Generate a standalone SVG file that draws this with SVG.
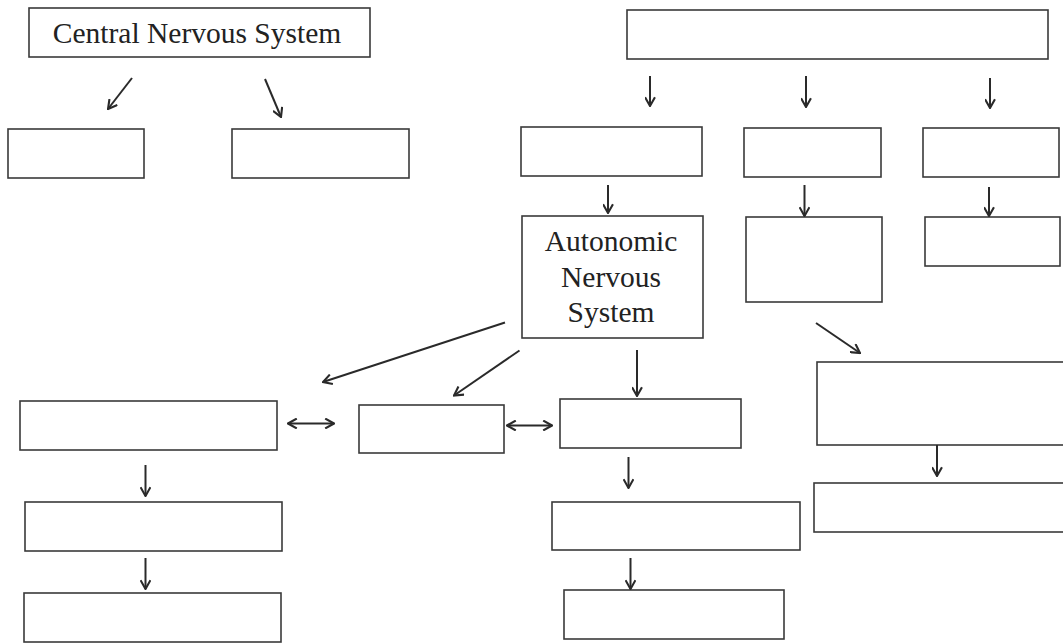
<svg xmlns="http://www.w3.org/2000/svg" width="1063" height="644" viewBox="0 0 1063 644">
<style>
.box{fill:#fff;stroke:#3a3a3a;stroke-width:1.6}
.c{fill:none;stroke:#2a2a2a;stroke-width:2}
.t{font-family:"Liberation Serif","Times New Roman",serif;font-size:29.5px;fill:#222;text-anchor:middle}
</style>
<defs>
<marker id="a" viewBox="0 0 10 10" refX="9" refY="5" markerWidth="11" markerHeight="11" markerUnits="userSpaceOnUse" orient="auto-start-reverse">
<polyline points="1,0.5 9,5 1,9.5" fill="none" stroke="#2a2a2a" stroke-width="1.9"/>
</marker>
</defs>
<rect width="1063" height="644" fill="#fff"/>
<g id="cns"><rect class="box" x="29" y="8" width="341" height="49"/><text class="t" x="197" y="43">Central Nervous System</text></g>
<g id="cns-a"><rect class="box" x="8" y="129" width="136" height="49"/></g>
<g id="cns-b"><rect class="box" x="232" y="129" width="177" height="49"/></g>
<g id="pns"><rect class="box" x="627" y="10" width="421" height="49"/></g>
<g id="pns-a"><rect class="box" x="521" y="127" width="181" height="49"/></g>
<g id="pns-b"><rect class="box" x="744" y="128" width="137" height="49"/></g>
<g id="pns-c"><rect class="box" x="923" y="128" width="136" height="49"/></g>
<g id="ans"><rect class="box" x="522" y="216" width="181" height="122"/><text class="t" x="611" y="251">Autonomic</text><text class="t" x="611" y="287">Nervous</text><text class="t" x="611" y="322">System</text></g>
<g id="b2"><rect class="box" x="746" y="217" width="136" height="85"/></g>
<g id="c2"><rect class="box" x="925" y="217" width="135" height="49"/></g>
<g id="l1"><rect class="box" x="20" y="401" width="257" height="49"/></g>
<g id="l2"><rect class="box" x="25" y="502" width="257" height="49"/></g>
<g id="l3"><rect class="box" x="24" y="593" width="257" height="49"/></g>
<g id="m1"><rect class="box" x="359" y="405" width="145" height="48"/></g>
<g id="r1"><rect class="box" x="560" y="399" width="181" height="49"/></g>
<g id="r2"><rect class="box" x="552" y="502" width="248" height="48"/></g>
<g id="r3"><rect class="box" x="564" y="590" width="220" height="49"/></g>
<g id="e1"><rect class="box" x="817" y="362" width="260" height="83"/></g>
<g id="e2"><rect class="box" x="814" y="483" width="260" height="49"/></g>
<g id="connectors">
<line class="c" x1="132" y1="78" x2="108" y2="109" marker-end="url(#a)"/>
<line class="c" x1="265" y1="79" x2="281" y2="117" marker-end="url(#a)"/>
<line class="c" x1="650" y1="76" x2="650" y2="106" marker-end="url(#a)"/>
<line class="c" x1="806" y1="76" x2="806" y2="107" marker-end="url(#a)"/>
<line class="c" x1="990" y1="78" x2="990" y2="108" marker-end="url(#a)"/>
<line class="c" x1="608" y1="185" x2="608" y2="213" marker-end="url(#a)"/>
<line class="c" x1="804.5" y1="185" x2="804.5" y2="216" marker-end="url(#a)"/>
<line class="c" x1="989" y1="187" x2="989" y2="216" marker-end="url(#a)"/>
<line class="c" x1="505" y1="322.5" x2="323" y2="382" marker-end="url(#a)"/>
<line class="c" x1="519.5" y1="350.5" x2="454" y2="395.5" marker-end="url(#a)"/>
<line class="c" x1="637" y1="350" x2="637" y2="396" marker-end="url(#a)"/>
<line class="c" x1="816" y1="323" x2="860" y2="353" marker-end="url(#a)"/>
<line class="c" x1="288" y1="423.5" x2="334" y2="423.5" marker-start="url(#a)" marker-end="url(#a)"/>
<line class="c" x1="507" y1="425.5" x2="552" y2="425.5" marker-start="url(#a)" marker-end="url(#a)"/>
<line class="c" x1="145.5" y1="465" x2="145.5" y2="496" marker-end="url(#a)"/>
<line class="c" x1="145.5" y1="558" x2="145.5" y2="589" marker-end="url(#a)"/>
<line class="c" x1="628.5" y1="457" x2="628.5" y2="488" marker-end="url(#a)"/>
<line class="c" x1="630.5" y1="558" x2="630.5" y2="589" marker-end="url(#a)"/>
<line class="c" x1="937" y1="445" x2="937" y2="476" marker-end="url(#a)"/>
</g>
</svg>
